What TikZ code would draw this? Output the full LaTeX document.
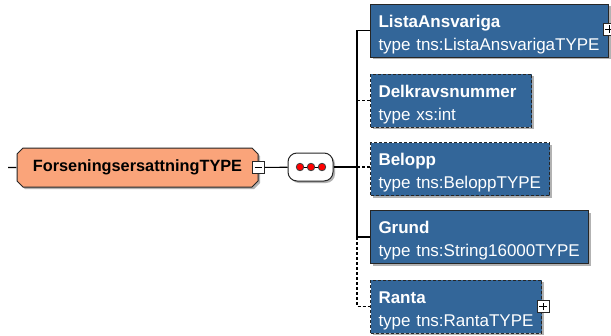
\documentclass[tikz,border=0pt]{standalone}
\usepackage{fontspec}
\setmainfont{Liberation Sans}
\usetikzlibrary{shapes.misc,shadows}
\definecolor{elemblue}{RGB}{51,102,153}
\definecolor{typeorange}{RGB}{250,164,122}
\tikzset{
  boxshadow/.style={drop shadow={shadow xshift=2pt,shadow yshift=-2pt,fill=black,opacity=0.3}},
  conn/.style={line width=1.1pt},
  opt/.style={dash pattern=on 3pt off 2pt},
  elem/.style={draw=black!85,line width=1pt,fill=elemblue,text=white,anchor=west,align=left,
    minimum height=53pt,inner xsep=8pt,inner ysep=0pt,font=\fontsize{17}{23}\selectfont,
    execute at begin node={\rule{0pt}{20pt}},boxshadow},
  typebox/.style={chamfered rectangle,chamfered rectangle xsep=3pt,chamfered rectangle ysep=3pt,
    draw=black!85,line width=1pt,fill=typeorange,minimum width=241pt,minimum height=39pt,
    inner sep=0pt,font=\fontsize{16.3}{20}\selectfont,boxshadow},
  seqbox/.style={draw=black!85,line width=1pt,fill=white,rounded corners=9pt,
    minimum width=45pt,minimum height=28pt,boxshadow},
  toggle/.style={draw=black!85,line width=0.8pt,fill=white,minimum size=12pt,inner sep=0pt},
  seqdot/.style={circle,draw=black!75,line width=0.8pt,fill=red,minimum size=7.5pt,inner sep=0pt}
}
\begin{document}
\begin{tikzpicture}[x=1pt,y=-1pt]
            \useasboundingbox (0,0) rectangle (611,335);
            % Type and sequence
            \coordinate (in) at (8,167.5);
            \node[typebox] (type) at (137.5,167.5) {\textbf{ForseningsersattningTYPE}};
            \draw[conn] (in) -- (type);
            \node[toggle] (minus) at (258.5,167.5) {};
            \draw ([xshift=2.5pt]minus.west) -- ([xshift=-2.5pt]minus.east);
            \node[seqbox] (seq) at (310.5,167) {};
            \draw[conn] (minus) -- (seq);
            \node[seqdot] (d1) at (300,167) {};
            \node[seqdot] (d2) at (311,167) {};
            \node[seqdot] (d3) at (322,167) {};
            \draw (d1) -- (d2) (d2) -- (d3);
            \coordinate (fork) at (357,167);
            \draw[conn] (seq) -- (fork);
            % Elements
            \node[elem,text width=222pt] (lista) at (370,30.5) {\textbf{ListaAnsvariga}\\type tns:ListaAnsvarigaTYPE};
            \node[elem,opt,text width=145pt] (delkrav) at (370,100.5) {\textbf{Delkravsnummer}\\type xs:int};
            \node[elem,opt,text width=163pt] (belopp) at (370,169) {\textbf{Belopp}\\type tns:BeloppTYPE};
            \node[elem,text width=202pt] (grund) at (370,237) {\textbf{Grund}\\type tns:String16000TYPE};
            \node[elem,opt,text width=155pt] (ranta) at (370,306.5) {\textbf{Ranta}\\type tns:RantaTYPE};
            % Plus signs
            \node[toggle] (plus1) at ([yshift=1.5pt]lista.east) {};
            \draw ([xshift=2.5pt]plus1.west) -- ([xshift=-2.5pt]plus1.east) ([yshift=2.5pt]plus1.south) -- ([yshift=-2.5pt]plus1.north);
            \node[toggle] (plus2) at ([xshift=1pt]ranta.east) {};
            \draw ([xshift=2.5pt]plus2.west) -- ([xshift=-2.5pt]plus2.east) ([yshift=2.5pt]plus2.south) -- ([yshift=-2.5pt]plus2.north);
            % Connectors
            \draw[conn] (fork) |- (lista);
            \draw[conn] (fork) |- (grund);
            \draw[conn,opt] (fork |- delkrav) -- (delkrav);
            \draw[conn,opt] (fork) -- (fork -| belopp.west);
            \draw[conn,opt] (fork |- grund) |- (ranta);
        \end{tikzpicture}
\end{document}
